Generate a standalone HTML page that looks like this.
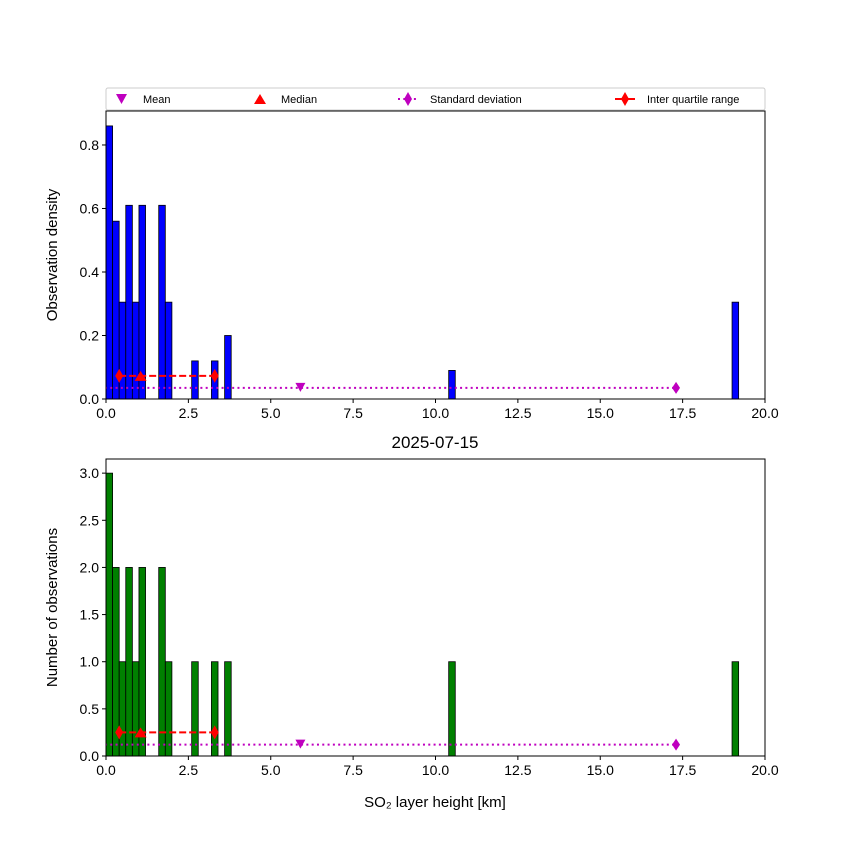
<!DOCTYPE html>
<html><head><meta charset="utf-8"><style>
body{margin:0;background:#fff}
svg text{font-family:"Liberation Sans","DejaVu Sans",sans-serif}
</style></head><body>
<svg id="c" width="850" height="850" xmlns="http://www.w3.org/2000/svg"></svg>
<script>
const binLeft=[0,0.2,0.4,0.6,0.8,1.0,1.6,1.8,2.6,3.2,3.6,10.4,19.0];
const binWidth=0.2;
const densityVals=[0.86,0.56,0.305,0.61,0.305,0.61,0.61,0.305,0.12,0.12,0.2,0.09,0.305];
const countVals=[3,2,1,2,1,2,2,1,1,1,1,1,1];
const meanX=5.9, medianX=1.05, stdLo=-5.5, stdHi=17.3, iqrLo=0.4, iqrHi=3.3;
const topMarkY=[0.035,0.073];
const botMarkY=[0.12,0.25];
const xTicks=[0,2.5,5,7.5,10,12.5,15,17.5,20];
const topYTicks=[0,0.2,0.4,0.6,0.8];
const botYTicks=[0,0.5,1,1.5,2,2.5,3];

const svg=document.getElementById('c');
const NS='http://www.w3.org/2000/svg';
function mk(t,a,p){const e=document.createElementNS(NS,t);for(const k in a)e.setAttribute(k,a[k]);(p||svg).appendChild(e);return e;}
const X0=106,X1=765;
const xs=v=>X0+(v/20)*(X1-X0);

function panel(name,top,bot,ymax,vals,fill,ticks,yl,mk2,fmt){
  const g=mk('g',{});
  
  
  const ys=v=>bot-(v/ymax)*(bot-top);
  const clip=mk('clipPath',{id:'cl'+name},g);
  mk('rect',{x:X0,y:top,width:X1-X0,height:bot-top},clip);
  vals.forEach((v,i)=>{
    const r=mk('rect',{x:xs(binLeft[i]),y:ys(v),width:xs(binLeft[i]+binWidth)-xs(binLeft[i]),height:bot-ys(v),fill:fill,stroke:'#000','stroke-width':0.8},g);
    
    
  });
  const cg=mk('g',{'clip-path':'url(#cl'+name+')'},g);
  const sy=ys(mk2[0]), iy=ys(mk2[1]);
  mk('line',{x1:xs(stdLo),x2:xs(stdHi),y1:sy,y2:sy,stroke:'#bf00bf','stroke-width':2,'stroke-dasharray':'2,3.3'},cg);
  mk('path',{d:`M${xs(stdHi)-4} ${sy}L${xs(stdHi)} ${sy-6}L${xs(stdHi)+4} ${sy}L${xs(stdHi)} ${sy+6}Z`,fill:'#bf00bf'},cg);
  mk('path',{d:`M${xs(meanX)-5} ${sy-5}L${xs(meanX)+5} ${sy-5}L${xs(meanX)} ${sy+4}Z`,fill:'#bf00bf'},cg);
  mk('line',{x1:xs(iqrLo),x2:xs(iqrHi),y1:iy,y2:iy,stroke:'#f00','stroke-width':2,'stroke-dasharray':'7,3'},cg);
  [iqrLo,iqrHi].forEach(v=>mk('path',{d:`M${xs(v)-4} ${iy}L${xs(v)} ${iy-7}L${xs(v)+4} ${iy}L${xs(v)} ${iy+7}Z`,fill:'#f00'},cg));
  mk('path',{d:`M${xs(medianX)-6} ${iy+5}L${xs(medianX)+6} ${iy+5}L${xs(medianX)} ${iy-5}Z`,fill:'#f00'},cg);
  mk('rect',{x:X0,y:top,width:X1-X0,height:bot-top,fill:'none',stroke:'#000','stroke-width':1},g);
  xTicks.forEach(t=>{const x=xs(t);mk('line',{x1:x,x2:x,y1:bot,y2:bot+4,stroke:'#000'},g);
    const tx=mk('text',{x:x,y:bot+19,'font-size':14,'text-anchor':'middle'},g);tx.textContent=t.toFixed(1);});
  ticks.forEach(t=>{const y=ys(t);mk('line',{x1:X0,x2:X0-4,y1:y,y2:y,stroke:'#000'},g);
    const tx=mk('text',{x:X0-7,y:y+5,'font-size':14,'text-anchor':'end'},g);tx.textContent=t.toFixed(1);});
  const yt=mk('text',{x:0,y:0,'font-size':15,'text-anchor':'middle',transform:`translate(57,${(top+bot)/2}) rotate(-90)`},g);
  yt.textContent=yl;
}
panel('density-panel',111,399,0.907,densityVals,'#0000ff',topYTicks,'Observation density',topMarkY);
panel('count-panel',459,756,3.15,countVals,'#008000',botYTicks,'Number of observations',botMarkY);
const t=mk('text',{x:435,y:448,'font-size':17,'text-anchor':'middle'});t.textContent='2025-07-15';

const xl=mk('text',{x:435,y:807,'font-size':15,'text-anchor':'middle'});xl.textContent='SO₂ layer height [km]';

// legend
const lg=mk('g',{});

mk('rect',{x:106,y:88,width:659,height:22,rx:2,fill:'#fff',stroke:'#ccc'},lg);
mk('path',{d:'M116 94L127 94L121.5 104Z',fill:'#bf00bf'},lg);
mk('path',{d:'M254 104L266 104L260 94Z',fill:'#f00'},lg);
mk('line',{x1:398,x2:418,y1:99,y2:99,stroke:'#bf00bf','stroke-width':2,'stroke-dasharray':'2,3.3'},lg);
mk('path',{d:'M404 99L408 92L412 99L408 106Z',fill:'#bf00bf'},lg);
mk('line',{x1:615,x2:635,y1:99,y2:99,stroke:'#f00','stroke-width':2},lg);
mk('path',{d:'M621 99L625 92L629 99L625 106Z',fill:'#f00'},lg);
[['Mean',143],['Median',281],['Standard deviation',430],['Inter quartile range',647]].forEach(([s,x])=>{
  const e=mk('text',{x:x,y:103,'font-size':11},lg);e.textContent=s;
  
});
</script>
</body></html>
